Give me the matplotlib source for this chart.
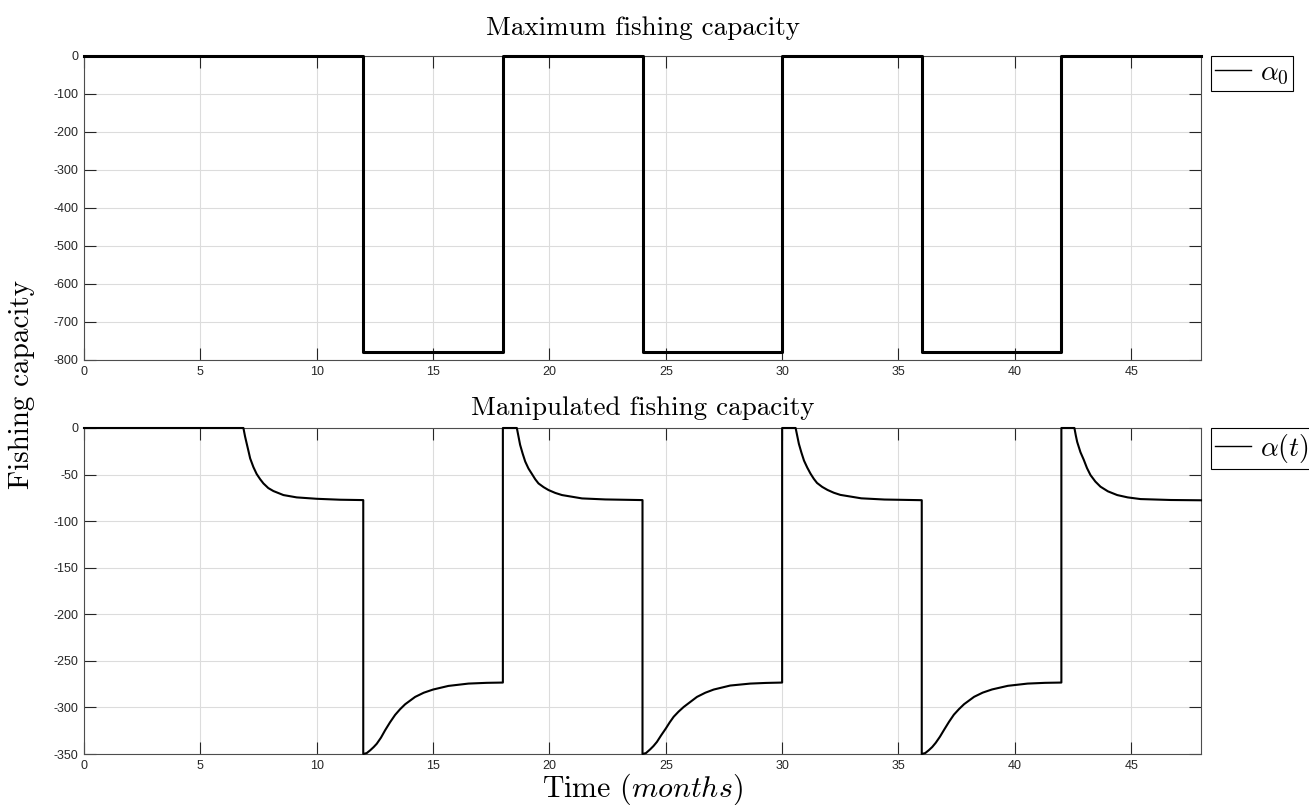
import numpy as np
import matplotlib
matplotlib.use("Agg")
import matplotlib.pyplot as plt

plt.rcParams['mathtext.fontset'] = 'cm'
plt.rcParams['axes.unicode_minus'] = False
plt.rcParams['font.family'] = ['Liberation Sans', 'DejaVu Sans']

# top panel: maximum fishing capacity (square wave)
t_max = [0, 12, 12, 18, 18, 24, 24, 30, 30, 36, 36, 42, 42, 48]
alpha0 = [0, 0, -780, -780, 0, 0, -780, -780, 0, 0, -780, -780, 0, 0]

# bottom panel: manipulated capacity
start_t = [0, 6.85, 6.92, 6.99, 7.07, 7.14, 7.28, 7.42, 7.57, 7.71, 7.92, 8.14, 8.57, 9.14, 10.0, 11.0, 12.0]
start_a = [0, 0, -9, -16.5, -25, -32.6, -42, -49.4, -55, -59.5, -64.5, -67.7, -72, -74.5, -76, -77, -77.4]

low1_t = [12.0, 12.15, 12.3, 12.45, 12.58, 12.76, 12.94, 13.15, 13.37, 13.58, 13.8, 14.23, 14.6, 15.0, 15.66, 16.52, 17.3, 18.0]
low1_a = [-350, -349, -346, -342.5, -339, -332.5, -324.5, -316, -308, -302, -296.6, -288.7, -284.2, -280.8, -276.9, -274.4, -273.6, -273.3]

high2_t = [18.0, 18.6, 18.67, 18.74, 18.85, 18.96, 19.1, 19.25, 19.39, 19.53, 19.75, 19.96, 20.25, 20.54, 21.4, 22.4, 24.0]
high2_a = [0, 0, -9, -18, -27.5, -36, -43.5, -49.4, -55, -59.5, -63.5, -66.6, -69.7, -72, -75.6, -76.7, -77.4]

low2_t = [24.0, 24.15, 24.33, 24.47, 24.62, 24.8, 25.0, 25.17, 25.34, 25.55, 25.77, 26.34, 26.7, 27.06, 27.77, 28.63, 29.3, 30.0]
low2_a = [-350, -349, -345, -341.5, -337, -330, -322.7, -316, -310, -304.5, -299.5, -288.7, -284.2, -280.8, -276.5, -274.4, -273.7, -273.3]

high3_t = [30.0, 30.58, 30.65, 30.72, 30.83, 30.94, 31.08, 31.22, 31.36, 31.5, 31.72, 31.95, 32.22, 32.5, 33.4, 34.4, 36.0]
high3_a = [0, 0, -8.5, -17, -26.5, -35, -42.5, -49, -54.5, -59, -63.2, -66.5, -69.5, -71.8, -75.5, -76.8, -77.5]

low3_t = [36.0, 36.15, 36.3, 36.45, 36.6, 36.78, 36.96, 37.17, 37.38, 37.6, 37.82, 38.25, 38.62, 39.02, 39.7, 40.55, 41.3, 42.0]
low3_a = [-350, -349, -346, -342.5, -338, -331.5, -324, -315.5, -307.8, -301.8, -296.5, -288.6, -284.1, -280.7, -276.8, -274.4, -273.6, -273.3]

high4_t = [42.0, 42.56, 42.62, 42.68, 42.82, 42.96, 43.1, 43.25, 43.46, 43.68, 44.0, 44.4, 44.85, 45.4, 46.7, 48.0]
high4_a = [0, 0, -8, -15, -26, -34, -43, -50.5, -57.5, -63, -68, -72, -74.5, -76.3, -77.3, -77.6]

t_alpha = start_t + low1_t + high2_t + low2_t + high3_t + low3_t + high4_t
alpha = start_a + low1_a + high2_a + low2_a + high3_a + low3_a + high4_a

xticks = [0, 5, 10, 15, 20, 25, 30, 35, 40, 45]

fig = plt.figure(figsize=(13.09, 8.05), dpi=100)
W, H = 1309.0, 805.0
ax1 = fig.add_axes([84 / W, 1 - 360 / H, (1201 - 84) / W, (360 - 56) / H])
ax2 = fig.add_axes([84 / W, 1 - 754 / H, (1201 - 84) / W, (754 - 428) / H])

for ax in (ax1, ax2):
    ax.set_xlim(0, 48)
    ax.set_xticks(xticks)
    ax.grid(True, color='#dcdcdc', lw=0.8)
    ax.set_axisbelow(True)
    ax.tick_params(direction='in', length=8.5, width=0.8, top=True, right=True,
                   labelsize=9, colors='#262626', pad=4)
    for s in ax.spines.values():
        s.set_color('#4d4d4d')
        s.set_linewidth(0.8)

ax1.plot(t_max, alpha0, color='black', lw=2.2, label=r'$\alpha_0$', clip_on=False, zorder=5)
ax1.set_ylim(-800, 0)
ax1.set_yticks(np.arange(-800, 1, 100))
ax1.set_title('Maximum fishing capacity', fontfamily='cmr10', fontsize=19.5, pad=15)

ax2.plot(t_alpha, alpha, color='black', lw=1.5, label=r'$\alpha(t)$', clip_on=False, zorder=5)
ax2.set_ylim(-350, 0)
ax2.set_yticks(np.arange(-350, 1, 50))
ax2.set_title('Manipulated fishing capacity', fontfamily='cmr10', fontsize=19.5, pad=9)
ax2.set_xlabel(r'Time $(months)$', fontfamily='cmr10', fontsize=21.5, labelpad=0)

for ax in (ax1, ax2):
    leg = ax.legend(loc='upper left', bbox_to_anchor=(1.009, 1.0), borderaxespad=0,
                    fancybox=False, edgecolor='black', fontsize=20, handlelength=1.3,
                    handletextpad=0.3, borderpad=0.15, framealpha=1)
    leg.get_frame().set_linewidth(0.8)
    for ln in leg.get_lines():
        ln.set_linewidth(1.0)

fig.text(0.017, 0.522, 'Fishing capacity', rotation=90, ha='center', va='center',
         fontfamily='cmr10', fontsize=21)

fig.savefig('out.png', dpi=100)
